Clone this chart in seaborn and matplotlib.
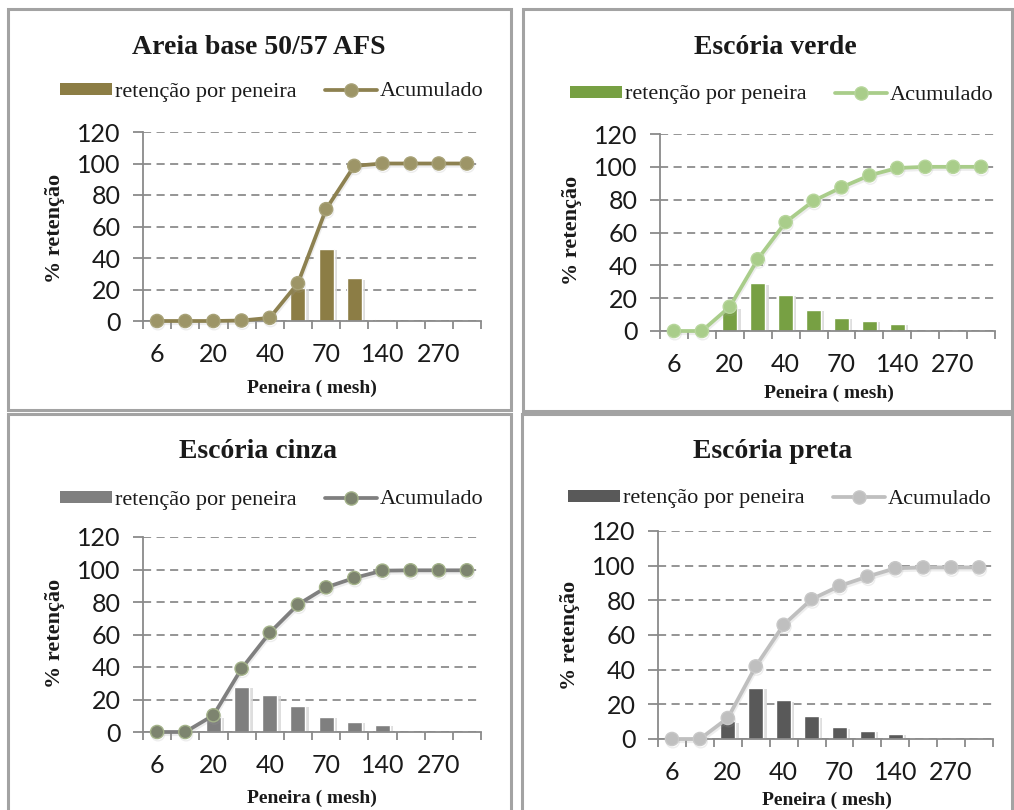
import numpy as np
import pandas as pd
import matplotlib
matplotlib.use("Agg")
import matplotlib.pyplot as plt
import matplotlib.patheffects as pe
import seaborn as sns
from matplotlib.patches import Rectangle, Patch
from matplotlib.lines import Line2D

# Peneiras da série ABNT/AFS (mesh); só uma a cada duas recebe rótulo no eixo
peneiras = ["6", "12", "20", "30", "40", "50", "70", "100", "140", "200", "270", "Fundo"]
rotulos = ["6", "", "20", "", "40", "", "70", "", "140", "", "270", ""]

titulos = ["Areia base 50/57 AFS", "Escória verde", "Escória cinza", "Escória preta"]

# % retida em cada peneira
ret_areia = [0, 0, 0, 0.3, 1.7, 21, 46, 27, 1.5, 0, 0, 0]
ret_verde = [0, 0, 14, 29, 22, 13, 8, 6.3, 4.5, 0, 0, 0]
ret_cinza = [0, 0, 9.2, 27.7, 23, 16, 9.2, 6.2, 4.5, 0, 0, 0]
ret_preta = [0, 0, 10.2, 29.4, 22.3, 13, 6.7, 4.8, 2.9, 0, 0, 0]

# % retida acumulada
acum_areia = [0, 0, 0, 0.3, 2, 24, 71, 98.5, 100, 100, 100, 100]
acum_verde = [0, 0, 14.8, 43.7, 66.3, 79.3, 87.5, 94.8, 99.3, 100, 100, 100]
acum_cinza = [0, 0, 10.3, 39, 61.1, 78.4, 89, 94.8, 99.3, 99.5, 99.5, 99.5]
acum_preta = [0, 0, 12.1, 41.9, 65.9, 80.6, 88.3, 93.7, 98.5, 99, 99, 99]

W, H = 1014, 810

sns.set_theme(style="white")
plt.rcParams["font.family"] = ["Lato", "DejaVu Sans"]

fig = plt.figure(figsize=(W / 100, H / 100), dpi=100)
fig.patch.set_facecolor("white")


def fx(x):
    return x / W


def fy(y):
    return 1 - y / H


SERIF = ["Liberation Serif", "DejaVu Serif"]
EIXO = "#8a8a8a"

# posições de cada painel em pixels: caixa, área de plotagem, título, legenda, rótulos
paineis = [
    dict(caixa=(8, 9, 511, 410), area=(143, 132, 481, 321), titulo=(259, 48),
         leg=(272, 92), ylab=(55, 228), xlab=(312, 388),
         ret=ret_areia, acum=acum_areia,
         barra="#8c7d45", linha="#8d8150", marc="#9d9567", borda_marc="#a8a278"),
    dict(caixa=(523, 9, 1012, 411), area=(660, 134, 995, 331), titulo=(775, 48),
         leg=(782, 95), ylab=(572, 230), xlab=(829, 393),
         ret=ret_verde, acum=acum_verde,
         barra="#77a043", linha="#a9cd8a", marc="#a9cd8a", borda_marc="#b7d69c"),
    dict(caixa=(8, 414, 511, 814), area=(143, 537, 481, 732), titulo=(258, 452),
         leg=(272, 500), ylab=(55, 633), xlab=(312, 798),
         ret=ret_cinza, acum=acum_cinza,
         barra="#7f7f7f", linha="#7f7f7f", marc="#7d846f", borda_marc="#a4b38a"),
    dict(caixa=(522, 414, 1012, 814), area=(658, 531, 993, 739), titulo=(773, 452),
         leg=(780, 499), ylab=(570, 635), xlab=(827, 800),
         ret=ret_preta, acum=acum_preta,
         barra="#595959", linha="#bfbfbf", marc="#bfbfbf", borda_marc="#c8c8c8"),
]

sombra_barra = [pe.SimplePatchShadow(offset=(2.5, -1), shadow_rgbFace="#d6d6d6", alpha=0.8),
                pe.Normal()]
sombra_linha = [pe.SimpleLineShadow(offset=(0.6, -1.6), shadow_color="#a0a0a0", alpha=0.18),
                pe.Normal()]

for p, titulo in zip(paineis, titulos):
    x0, y0, x1, y1 = p["caixa"]
    fig.add_artist(Rectangle((fx(x0), fy(y1)), fx(x1 - x0), (y1 - y0) / H,
                             transform=fig.transFigure, fill=False,
                             edgecolor="#a3a3a3", linewidth=2.2))

    l, t, r, b = p["area"]
    ax = fig.add_axes([fx(l), fy(b), fx(r - l), (b - t) / H])
    ax.set_facecolor("none")

    df = pd.DataFrame({"peneira": peneiras, "ret": p["ret"], "acum": p["acum"]})
    sns.barplot(data=df, x="peneira", y="ret", order=peneiras, ax=ax,
                color=p["barra"], saturation=1, width=0.53, zorder=2)
    for barra in ax.patches:
        barra.set_path_effects(sombra_barra)
    sns.pointplot(data=df, x="peneira", y="acum", order=peneiras, ax=ax,
                  color=p["linha"], markers="o", markersize=9.5, linewidth=2.7,
                  errorbar=None, zorder=3)
    for ln in ax.lines:
        ln.set_markerfacecolor(p["marc"])
        ln.set_markeredgecolor(p["borda_marc"])
        ln.set_markeredgewidth(1.0)
        ln.set_clip_on(False)
        ln.set_path_effects(sombra_linha)

    ax.set_xlim(-0.5, len(peneiras) - 0.5)
    ax.set_ylim(0, 120)
    ax.set_yticks(np.arange(0, 121, 20))
    ax.set_xticks(np.arange(len(peneiras)))
    ax.set_xticklabels(rotulos)
    ax.set_xticks(np.arange(len(peneiras) + 1) - 0.5, minor=True)
    ax.set_xlabel("")
    ax.set_ylabel("")

    ax.yaxis.grid(True, linestyle=(0, (4.5, 3)), color="#8c8c8c", linewidth=1.3, zorder=0)
    ax.xaxis.grid(False)
    ax.set_axisbelow(True)

    for s in ("top", "right"):
        ax.spines[s].set_visible(False)
    for s in ("left", "bottom"):
        ax.spines[s].set_color(EIXO)
        ax.spines[s].set_linewidth(1.3)

    ax.tick_params(axis="y", which="major", direction="out", length=7, width=1.3,
                   color=EIXO, pad=9, labelsize=18, labelcolor="#1a1a1a", left=True)
    ax.tick_params(axis="x", which="major", length=0, pad=16, labelsize=18,
                   labelcolor="#1a1a1a", bottom=True)
    ax.tick_params(axis="x", which="minor", direction="out", length=6, width=1.3,
                   color=EIXO, bottom=True)

    fig.text(fx(p["titulo"][0]), fy(p["titulo"][1]), titulo, ha="center", va="center",
             family=SERIF, fontweight="bold", fontsize=20, color="#1a1a1a")
    fig.text(fx(p["ylab"][0]), fy(p["ylab"][1]), "% retenção", ha="center", va="center",
             rotation=90, family=SERIF, fontweight="bold", fontsize=16, color="#1a1a1a")
    fig.text(fx(p["xlab"][0]), fy(p["xlab"][1]), "Peneira ( mesh)", ha="center", va="center",
             family=SERIF, fontweight="bold", fontsize=14, color="#1a1a1a")

    alcas = [
        Patch(facecolor=p["barra"], edgecolor="none", label="retenção por peneira"),
        Line2D([], [], color=p["linha"], linewidth=2.7, marker="o", markersize=9.5,
               markerfacecolor=p["marc"], markeredgecolor=p["borda_marc"],
               label="Acumulado"),
    ]
    fig.legend(handles=alcas, loc="center", bbox_to_anchor=(fx(p["leg"][0]), fy(p["leg"][1])),
               ncol=2, frameon=False, prop={"family": SERIF, "size": 16},
               handlelength=2.3, handleheight=0.45, handletextpad=0.15, columnspacing=1.3,
               labelcolor="#1a1a1a")

fig.savefig("out.png", dpi=100, facecolor="white")
